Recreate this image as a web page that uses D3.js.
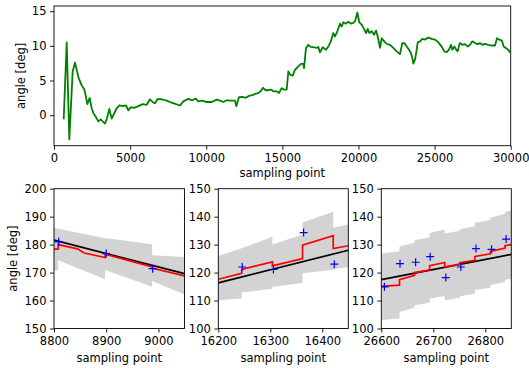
<!DOCTYPE html>
<html>
<head>
<meta charset="utf-8">
<script src="https://cdn.jsdelivr.net/npm/d3@7"></script>
<style>
  html, body { margin: 0; padding: 0; background: #fff; }
  svg { display: block; }
</style>
</head>
<body>
<div id="app"></div>
<script>
// overview: angle estimate over the whole run
const overview = [
  [637,-0.6],[834,10.5],[1007,-3.5],[1226,6.3],[1380,7.6],[1598,5.5],[1818,4.3],[1993,3.7],
  [2102,2.6],[2190,1.6],[2343,2.5],[2475,1.0],[2606,0.2],[2737,-0.2],[2912,-0.9],[3066,-0.6],
  [3197,-0.9],[3350,-1.2],[3460,-0.6],[3635,0.9],[3788,-0.5],[3941,0.2],[4117,1.0],[4292,1.4],
  [4511,1.3],[4730,1.4],[4883,0.7],[5037,1.15],[5255,1.05],[5540,1.3],[5825,1.6],[6088,1.5],
  [6306,2.3],[6481,1.9],[6634,1.7],[6788,2.3],[7073,2.3],[7401,2.1],[7730,1.8],[8277,1.4],
  [8496,2.0],[8824,2.35],[9087,2.15],[9306,2.4],[9481,2.0],[9744,2.1],[10031,1.9],[10359,1.9],
  [10688,2.25],[10905,2.1],[11122,1.9],[11341,2.15],[11673,2.1],[11890,2.1],[11975,1.3],
  [12153,2.6],[12370,2.65],[12593,2.5],[12810,2.8],[13027,2.9],[13250,3.1],[13421,3.2],
  [13578,3.45],[13730,3.95],[13907,3.6],[14078,3.6],[14255,3.7],[14406,3.45],[14629,3.45],
  [14780,3.2],[14958,3.9],[15100,3.7],[15286,3.7],[15391,6.3],[15503,5.85],[15681,5.7],
  [15831,6.55],[16048,7.05],[16226,7.4],[16377,7.4],[16423,6.8],[16554,9.7],[16705,10.15],
  [16863,9.85],[17079,9.8],[17257,9.7],[17362,9.85],[17474,9.05],[17651,9.8],[17868,9.45],
  [18019,9.9],[18177,10.6],[18348,11.85],[18459,11.35],[18610,12.1],[18788,13.2],[18900,12.8],
  [19004,13.4],[19181,13.2],[19333,13.5],[19491,13.2],[19662,13.3],[19793,13.65],[19925,14.8],
  [20056,13.4],[20212,13.05],[20364,12.45],[20496,11.85],[20607,12.45],[20713,11.85],[20870,12.1],
  [21021,11.6],[21152,12.2],[21264,11.35],[21415,9.7],[21527,11.1],[21743,10.5],[21895,10.25],
  [22072,10.15],[22290,9.7],[22513,9.2],[22729,8.8],[22881,10.4],[23012,10.4],[23170,9.9],
  [23320,9.45],[23451,8.95],[23537,8.25],[23603,7.45],[23714,8.0],[23826,9.45],[23892,10.5],
  [24043,10.65],[24194,11.0],[24371,10.9],[24588,11.2],[24811,11.0],[25028,10.9],[25244,10.5],
  [25467,9.9],[25638,9.2],[25796,9.1],[25947,9.45],[26079,10.15],[26164,9.45],[26296,9.9],
  [26427,9.45],[26519,9.2],[26651,10.4],[26822,10.15],[26999,10.25],[27176,9.9],[27327,10.15],
  [27478,10.65],[27656,10.4],[27833,10.25],[27984,10.4],[28135,10.15],[28313,10.3],[28530,10.15],
  [28753,10.05],[28970,10.05],[29101,11.1],[29233,10.9],[29410,10.8],[29541,9.9],[29673,9.7],
  [29844,9.45],[29955,9.05]
]
const overviewXTicks = [0, 5000, 10000, 15000, 20000, 25000, 30000]
const overviewYTicks = [0, 5, 10, 15]

// zoom 1: around 8800..9050
const z1Fit = [[8800,181.6],[9050,169.6]]
const z1Meas = [[8809,181.0],[8900,176.8],[8989,171.4]]
const z1Est = [[8800,178.4],[8808,178.4],[8808,180.0],[8845,178.5],[8858,177.0],[8898,175.4],
  [8898,176.6],[8988,172.0],[8988,171.6],[9050,168.8]]
const z1Band = [[8800,170.8,186.1],[8808,170.8,185.7],[8808,174.4,185.7],[8898,167.6,182.3],
  [8898,170.9,182.4],[8988,164.9,180.1],[8988,167.0,176.2],[9050,162.2,175.6]]
const z1XTicks = [8800, 8900, 9000]
const z1YTicks = [150, 160, 170, 180, 190, 200]

// zoom 2: around 16200..16450
const z2Fit = [[16200,116.3],[16450,128.0]]
const z2Meas = [[16246,122.0],[16306,121.1],[16364,134.3],[16423,123.0]]
const z2Est = [[16200,117.6],[16245,119.7],[16245,121.1],[16304,123.8],[16304,122.4],[16362,125.0],
  [16362,129.8],[16421,133.2],[16421,128.6],[16450,129.6]]
const z2Band = [[16200,110.1,125.9],[16245,110.7,128.7],[16245,112.9,128.7],[16304,114.2,132.8],
  [16304,114.9,130.0],[16362,116.3,133.6],[16362,119.8,137.9],[16421,121.0,141.8],
  [16421,121.2,136.0],[16450,121.9,137.2]]
const z2XTicks = [16200, 16300, 16400]
const z2YTicks = [100, 110, 120, 130, 140, 150]

// zoom 3: around 26600..26850
const z3Fit = [[26600,117.5],[26850,126.5]]
const z3Meas = [[26606,114.9],[26636,123.2],[26666,123.7],[26694,125.7],[26724,118.2],
  [26753,122.0],[26782,128.6],[26812,128.3],[26840,132.0]]
const z3Est = [[26600,115.1],[26635,115.5],[26635,117.5],[26664,119.0],[26664,120.0],[26693,120.9],
  [26693,122.5],[26722,123.6],[26722,122.0],[26751,123.0],[26751,123.5],[26780,124.4],
  [26780,125.8],[26810,126.7],[26810,127.6],[26838,128.8],[26838,129.6],[26850,130.0]]
const z3Band = [[26600,103.0,126.8],[26635,103.6,127.6],[26635,105.9,129.2],[26664,107.5,130.8],
  [26664,108.3,131.6],[26693,109.2,132.6],[26693,110.6,134.2],[26722,111.6,135.4],
  [26722,110.0,134.0],[26751,111.0,135.0],[26751,111.5,135.5],[26780,112.4,136.6],
  [26780,113.8,137.8],[26810,114.6,138.8],[26810,115.6,139.6],[26838,116.6,141.0],
  [26838,117.4,141.8],[26850,117.8,142.2]]
const z3XTicks = [26600, 26700, 26800]
const z3YTicks = [100, 110, 120, 130, 140, 150]

const FONT = "DejaVu Sans"
const FS = 11.5

const svg = d3.select("#app").append("svg")
  .attr("width", 529)
  .attr("height", 368)
  .attr("font-family", FONT)

let clipId = 0
function makeAxes(box, xDomain, yDomain, xTicks, yTicks) {
  const fx = d3.scaleLinear().domain(xDomain).range([box.x0, box.x1])
  const fy = d3.scaleLinear().domain(yDomain).range([box.y1, box.y0])
  const g = svg.append("g")
  const id = "clip" + (clipId++)
  g.append("clipPath").attr("id", id).append("rect")
    .attr("x", box.x0).attr("y", box.y0)
    .attr("width", box.x1 - box.x0).attr("height", box.y1 - box.y0)
  const plot = g.append("g").attr("clip-path", `url(#${id})`)

  g.append("g")
    .attr("transform", `translate(0,${box.y1})`)
    .call(d3.axisBottom(fx).tickValues(xTicks).tickFormat(d3.format("d")).tickSize(4).tickPadding(4.3))
    .attr("font-size", FS).attr("font-family", FONT)
  g.append("g")
    .attr("transform", `translate(${box.x0},0)`)
    .call(d3.axisLeft(fy).tickValues(yTicks).tickFormat(d3.format("d")).tickSize(4).tickPadding(3.5))
    .attr("font-size", FS).attr("font-family", FONT)
  g.selectAll(".domain").remove()
  g.selectAll(".tick line").attr("stroke", "#000").attr("stroke-width", 0.9)
  g.selectAll(".tick text").attr("fill", "#000")

  g.append("rect")
    .attr("x", box.x0).attr("y", box.y0)
    .attr("width", box.x1 - box.x0).attr("height", box.y1 - box.y0)
    .attr("fill", "none").attr("stroke", "#000").attr("stroke-width", 0.9)
  return { fx, fy, plot }
}

function xLabel(box, y) {
  svg.append("text")
    .attr("x", (box.x0 + box.x1) / 2).attr("y", y)
    .attr("text-anchor", "middle").attr("font-size", FS)
    .text("sampling point")
}
function yLabel(box, x) {
  const cy = (box.y0 + box.y1) / 2
  svg.append("text")
    .attr("transform", `translate(${x},${cy}) rotate(-90)`)
    .attr("text-anchor", "middle").attr("font-size", FS)
    .text("angle [deg]")
}

// top panel
const overBox = { x0: 54, x1: 510.7, y0: 6, y1: 145.7 }
const overAxes = makeAxes(overBox, [0, 30000], [-4.4, 15.75], overviewXTicks, overviewYTicks)
overAxes.plot.append("path")
  .datum(overview)
  .attr("d", d3.line().x(d => overAxes.fx(d[0])).y(d => overAxes.fy(d[1])))
  .attr("fill", "none")
  .attr("stroke", "green")
  .attr("stroke-width", 1.8)
  .attr("stroke-linejoin", "round")
xLabel(overBox, 177)
yLabel(overBox, 24.5)

// bottom panels
function zoomPanel(box, xDomain, yDomain, xTicks, yTicks, band, fit, est, meas) {
  const a = makeAxes(box, xDomain, yDomain, xTicks, yTicks)
  a.plot.append("path")
    .datum(band)
    .attr("d", d3.area().x(d => a.fx(d[0])).y0(d => a.fy(d[1])).y1(d => a.fy(d[2])))
    .attr("fill", "lightgray")
  a.plot.append("path")
    .datum(fit)
    .attr("d", d3.line().x(d => a.fx(d[0])).y(d => a.fy(d[1])))
    .attr("fill", "none").attr("stroke", "#000").attr("stroke-width", 1.7)
  a.plot.append("path")
    .datum(est)
    .attr("d", d3.line().x(d => a.fx(d[0])).y(d => a.fy(d[1])))
    .attr("fill", "none").attr("stroke", "red").attr("stroke-width", 1.7)
  a.plot.selectAll(".meas")
    .data(meas)
    .join("path")
      .attr("class", "meas")
      .attr("transform", d => `translate(${a.fx(d[0])},${a.fy(d[1])})`)
      .attr("d", "M-4,0H4M0,-4V4")
      .attr("stroke", "blue").attr("stroke-width", 1.2)
  xLabel(box, 361.5)
}

const b1 = { x0: 54, x1: 184.5, y0: 188.7, y1: 328.5 }
const b2 = { x0: 218.3, x1: 348.3, y0: 188.7, y1: 328.5 }
const b3 = { x0: 381.3, x1: 511.3, y0: 188.7, y1: 328.5 }
zoomPanel(b1, [8800, 9050], [150, 200], z1XTicks, z1YTicks, z1Band, z1Fit, z1Est, z1Meas)
zoomPanel(b2, [16200, 16450], [100, 150], z2XTicks, z2YTicks, z2Band, z2Fit, z2Est, z2Meas)
zoomPanel(b3, [26600, 26850], [100, 150], z3XTicks, z3YTicks, z3Band, z3Fit, z3Est, z3Meas)
yLabel(b1, 16.6)
</script>
</body>
</html>
